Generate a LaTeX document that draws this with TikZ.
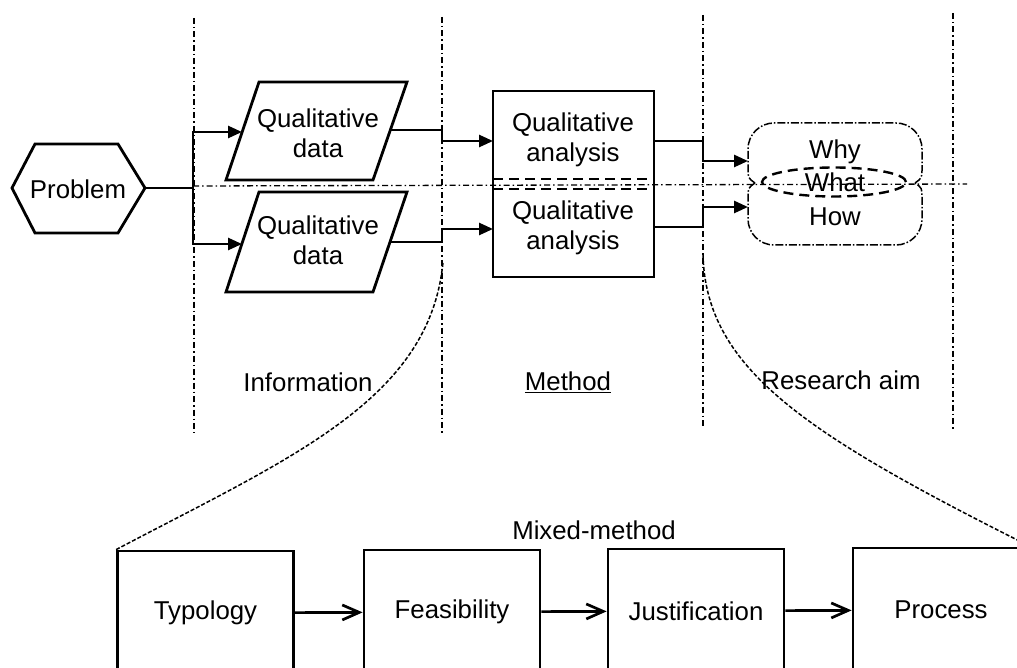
\documentclass[tikz,border=0pt]{standalone}
\usepackage{fontspec}
\setmainfont{Liberation Sans}
\usetikzlibrary{arrows.meta}
\begin{document}
\begin{tikzpicture}[x=1pt,y=1pt,
  lbl/.style={font=\fontsize{25.8}{30}\selectfont, align=center, inner sep=0pt},
  shapeline/.style={line width=2.8pt, line join=miter},
  conn/.style={line width=2.7pt},
  farrow/.style={conn, -{Triangle[length=14pt,width=12pt]}},
  oarrow/.style={conn, -{Straight Barb[length=17pt,width=15pt,line width=2.7pt]}},
  divider/.style={line width=1.3pt, dash pattern=on 6pt off 3pt on 1.5pt off 3pt},
  cloudline/.style={line width=1.5pt, dash pattern=on 8pt off 2pt on 1.5pt off 2pt},
  zoomline/.style={line width=1.5pt, dash pattern=on 4pt off 2pt},
  innerdash/.style={line width=2.4pt, dash pattern=on 10pt off 6pt},
  stepbox/.style={draw, shapeline, minimum width=176pt, minimum height=124pt, inner sep=0pt, font=\fontsize{25.8}{30}\selectfont}
]
\useasboundingbox (0,0) rectangle (1017,-668);
\clip (0,0) rectangle (1017,-668);

% vertical dividers
\coordinate (v1t) at (194,-18);  \coordinate (v1b) at (194,-433);
\coordinate (v2t) at (442,-17);  \coordinate (v2b) at (442,-433);
\coordinate (v3t) at (703,-15);  \coordinate (v3b) at (703,-428);
\coordinate (v4t) at (953,-13);  \coordinate (v4b) at (953,-430);
\draw[divider] (v1t) -- (v1b);
\draw[divider] (v2t) -- (v2b);
\draw[divider] (v3t) -- (v3b);
\draw[divider] (v4t) -- (v4b);
% horizontal divider
\coordinate (hl) at (193,-186); \coordinate (hr) at (967,-184);
\draw[divider] (hl) -- (hr);

% Problem hexagon
\draw[shapeline] (12,-188) -- (35,-144) -- (118,-144) -- (145,-188) -- (118,-233) -- (35,-233) -- cycle;
\node[lbl] (prob) at (78,-189) {Problem};
\coordinate (probE) at (145,-188);
\coordinate (branch) at (193,-188);

% parallelograms
\draw[shapeline] (226,-180) -- (373,-180) -- (407,-82) -- (259,-82) -- cycle;
\node[lbl] (qd1) at (318,-133) {Qualitative\\data};
\coordinate (qd1W) at (242,-132);
\coordinate (qd1E) at (390,-130);
\draw[shapeline] (226,-292) -- (373,-292) -- (407,-192) -- (259,-192) -- cycle;
\node[lbl] (qd2) at (318,-240) {Qualitative\\data};
\coordinate (qd2W) at (242,-244);
\coordinate (qd2E) at (390,-242);

% connectors problem -> data
\draw[conn] (probE) -- (branch);
\draw[farrow] (branch) |- (qd1W);
\draw[farrow] (branch) |- (qd2W);

% analysis box
\node[draw, shapeline, minimum width=161pt, minimum height=186pt, inner sep=0pt] (qa) at (573.5,-184) {};
\draw[innerdash] (493,-179) -- (654,-179);
\draw[innerdash] (493,-189) -- (654,-189);
\node[lbl] (qa1) at (573,-140) {Qualitative\\analysis};
\node[lbl] (qa2) at (573,-228) {Qualitative\\analysis};
\coordinate (qaW1) at (493,-141);
\coordinate (qaW2) at (493,-229);
\coordinate (qaE1) at (654,-141);
\coordinate (qaE2) at (654,-227);

\draw[farrow] (qd1E) -- (442,-130) -- (442,-141) -- (qaW1);
\draw[farrow] (qd2E) -- (442,-242) -- (442,-229) -- (qaW2);

% research aim cloud
\draw[cloudline] (755,-183) .. controls (748,-178) .. (748,-168) -- (748,-149)
  arc[start angle=180,end angle=90,radius=26] -- (896,-123)
  arc[start angle=90,end angle=0,radius=26] -- (922,-168)
  .. controls (922,-178) .. (915,-183);
\draw[cloudline] (755,-183) .. controls (748,-188) .. (748,-198) -- (748,-219)
  arc[start angle=180,end angle=270,radius=26] -- (896,-245)
  arc[start angle=270,end angle=360,radius=26] -- (922,-198)
  .. controls (922,-188) .. (915,-183);
\draw[innerdash] (834,-182) ellipse[x radius=72, y radius=14.5];
\node[lbl] (why) at (835,-152) {Why};
\node[lbl] (what) at (835,-182) {What};
\node[lbl] (how) at (835,-217) {How};
\coordinate (aimU) at (748,-161);
\coordinate (aimL) at (748,-207);

\draw[farrow] (qaE1) -- (703,-141) -- (703,-161) -- (aimU);
\draw[farrow] (qaE2) -- (703,-227) -- (703,-207) -- (aimL);

% column labels
\node[lbl] (info) at (308,-382) {Information};
\node[lbl] (meth) at (568,-382) {\underline{Method}};
\node[lbl] (raim) at (841,-380) {Research aim};

% mixed-method
\node[lbl] (mixed) at (594,-530) {Mixed-method};
\node[stepbox] (typ) at (205.5,-613) {Typology};
\node[stepbox] (feas) at (452,-612) {Feasibility};
\node[stepbox] (just) at (696,-611) {Justification};
\node[stepbox] (proc) at (941,-610) {Process};
\draw[oarrow] (typ) -- (feas);
\draw[oarrow] (feas) -- (just);
\draw[oarrow] (just) -- (proc);

% zoom curves
\coordinate (ltop) at (443,-262);
\coordinate (rtop) at (703,-255);
\draw[zoomline] (typ.north west) .. controls (290,-458) and (430,-400) .. (ltop);
\draw[zoomline] (rtop) .. controls (706,-370) and (808,-435) .. (proc.north east);
\end{tikzpicture}
\end{document}
